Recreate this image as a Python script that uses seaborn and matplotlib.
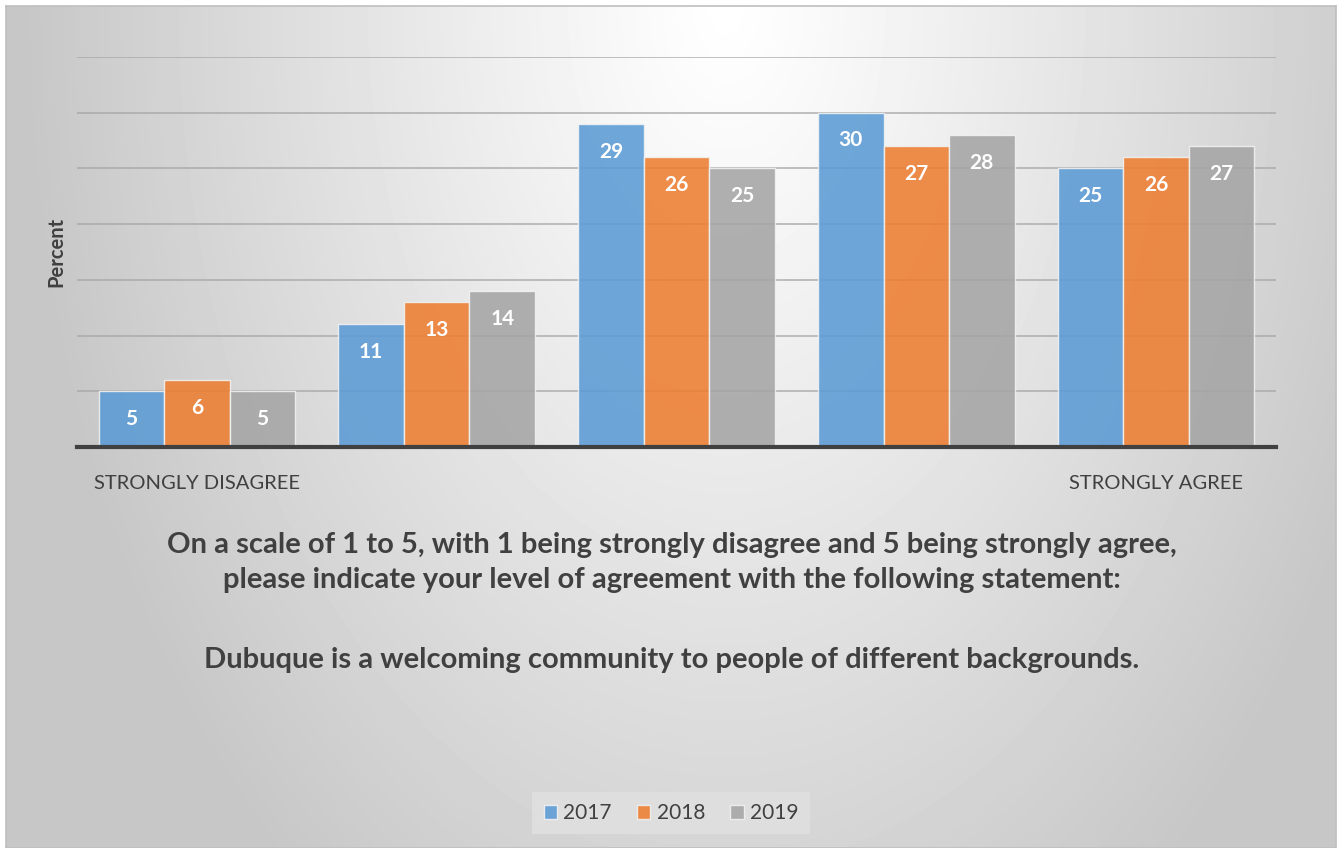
#!/usr/bin/env python3
"""Grouped bars: Dubuque welcoming-community agreement, 2017-2019."""
import numpy as np
import pandas as pd
import matplotlib as mpl
import matplotlib.pyplot as plt
import seaborn as sns

# Data
levels = ["1", "2", "3", "4", "5"]
level_labels = ["STRONGLY DISAGREE", "", "", "", "STRONGLY AGREE"]
years = ["2017", "2018", "2019"]
pct_2017 = [5, 11, 29, 30, 25]
pct_2018 = [6, 13, 26, 27, 26]
pct_2019 = [5, 14, 25, 28, 27]

colors = ["#5b9bd5", "#ed7d31", "#a5a5a5"]
text_dark = "#404040"

W, H = 1344, 848


def set_style():
    sns.set_theme(style="white")
    mpl.rcParams.update(
        {
            "font.family": ["Lato", "DejaVu Sans"],
            "text.color": text_dark,
            "axes.labelcolor": text_dark,
            "xtick.color": text_dark,
        }
    )


def main():
    set_style()

    df = pd.DataFrame(
        {
            "level": levels * 3,
            "year": [y for y in years for _ in levels],
            "percent": pct_2017 + pct_2018 + pct_2019,
        }
    )

    fig = plt.figure(figsize=(W / 100, H / 100), dpi=100)
    fig.patch.set_facecolor("white")

    # radial gradient background, light at the top centre
    bg = fig.add_axes([6 / W, 0, 1330 / W, 842 / H], zorder=0)
    yy, xx = np.mgrid[0:842, 0:1330]
    r = np.sqrt(((xx - 720) / 700.0) ** 2 + (yy / 1100.0) ** 2)
    shade = 1.0 - 0.22 * np.clip(r, 0, 1) ** 1.1
    bg.imshow(shade, cmap="gray", vmin=0, vmax=1, aspect="auto", interpolation="bilinear")
    bg.set_xticks([])
    bg.set_yticks([])
    for s in bg.spines.values():
        s.set_color("#bfbfbf")
        s.set_linewidth(1.2)

    # plot area
    ax = fig.add_axes([77 / W, 401 / H, 1199 / W, 390 / H], zorder=2)
    ax.set_facecolor("none")

    sns.barplot(
        data=df,
        x="level",
        y="percent",
        hue="year",
        order=levels,
        hue_order=years,
        palette=colors,
        saturation=1,
        width=0.82,
        alpha=0.88,
        edgecolor="#f2f2f2",
        linewidth=1.0,
        ax=ax,
        zorder=3,
    )

    # value labels inside the bar tops
    for container in ax.containers:
        for bar in container:
            h = bar.get_height()
            ax.annotate(
                f"{h:.0f}",
                (bar.get_x() + bar.get_width() / 2, h),
                textcoords="offset points",
                xytext=(0, -20),
                ha="center",
                va="center",
                fontsize=15,
                fontweight="bold",
                color="white",
                zorder=5,
            )

    ax.set_ylim(0, 35)
    ax.set_yticks(np.arange(5, 36, 5))
    ax.yaxis.grid(True, color="#a6a6a6", linewidth=1.4, alpha=0.7)
    ax.set_axisbelow(True)
    ax.tick_params(axis="y", left=False, labelleft=False)
    ax.tick_params(axis="x", bottom=False, labelsize=14.5, pad=14)
    ax.set_xticks(range(len(levels)))
    ax.set_xticklabels(level_labels)
    ax.set_xlabel("")
    ax.set_ylabel("Percent", fontsize=14.5, fontweight="bold", labelpad=8)
    for side in ["top", "right", "left"]:
        ax.spines[side].set_visible(False)
    ax.spines["bottom"].set_color(text_dark)
    ax.spines["bottom"].set_linewidth(3)
    ax.spines["bottom"].set_zorder(6)

    # question text
    question = [
        (545, "On a scale of 1 to 5, with 1 being strongly disagree and 5 being strongly agree,"),
        (580, "please indicate your level of agreement with the following statement:"),
        (660, "Dubuque is a welcoming community to people of different backgrounds."),
    ]
    for ypx, line in question:
        fig.text(0.5, 1 - ypx / H, line, ha="center", va="center",
                 fontsize=21, fontweight="bold", color=text_dark)

    # legend
    handles, labels = ax.get_legend_handles_labels()
    ax.get_legend().remove()
    leg = fig.legend(
        handles,
        labels,
        loc="center",
        bbox_to_anchor=(671 / W, 1 - 813 / H),
        ncol=3,
        frameon=True,
        facecolor="#dedede",
        edgecolor="none",
        fancybox=False,
        fontsize=15,
        handlelength=0.65,
        handleheight=0.65,
        handletextpad=0.3,
        columnspacing=1.2,
        borderpad=0.55,
    )
    leg.get_frame().set_alpha(1)
    for t in leg.get_texts():
        t.set_color(text_dark)

    fig.savefig("out.png", dpi=100)


if __name__ == "__main__":
    main()
